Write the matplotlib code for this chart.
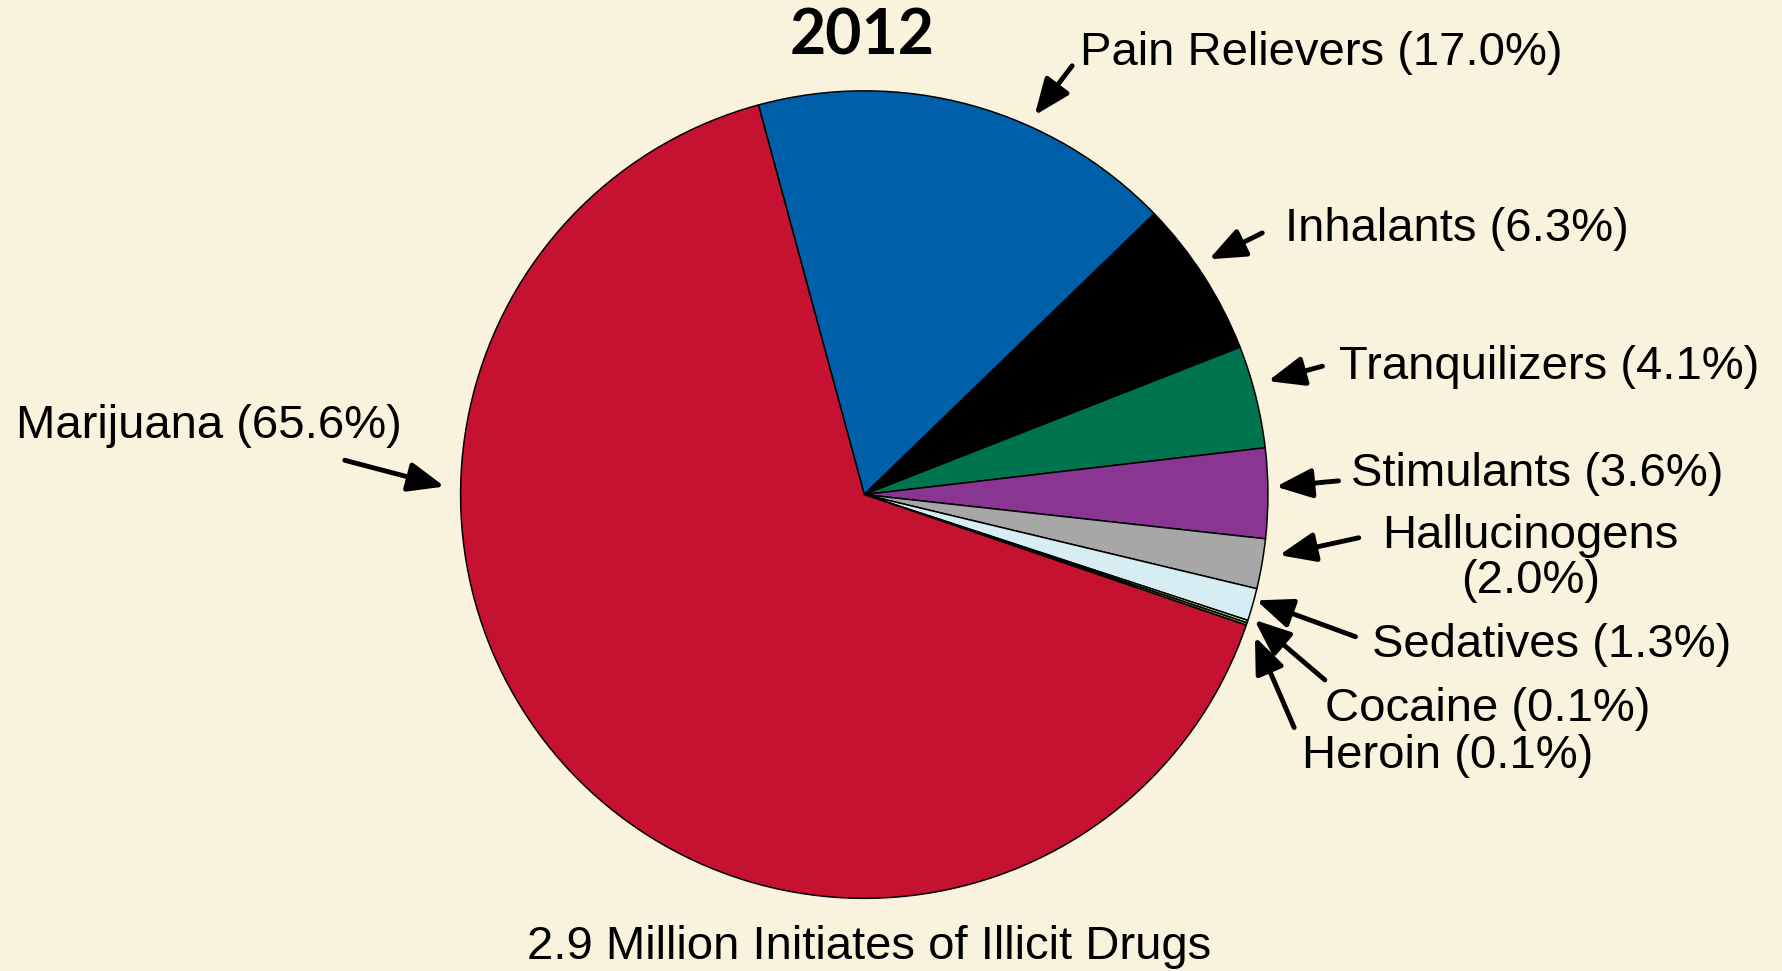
import matplotlib.pyplot as plt
import numpy as np

# first-time users of illicit drugs, 2012
drugs = ['Pain Relievers', 'Inhalants', 'Tranquilizers', 'Stimulants',
         'Hallucinogens', 'Sedatives', 'Cocaine', 'Heroin', 'Marijuana']
shares = [17.0, 6.3, 4.1, 3.6, 2.0, 1.3, 0.1, 0.1, 65.6]
colors = ['#005FA9', '#000000', '#00744F', '#8B3593', '#A7A7A7',
          '#D6EDF4', '#FFF19E', '#5DB65B', '#C41230']

# label text anchor, arrow tail (data units) and arrow tip (angle, radius)
label_pos = {
    'Pain Relievers': ((0.535, 1.093), (0.515, 1.062), (65.8, 1.03)),
    'Inhalants': ((1.042, 0.659), (0.986, 0.648), (34.3, 1.034)),
    'Tranquilizers': ((1.175, 0.315), (1.135, 0.318), (15.7, 1.039)),
    'Stimulants': ((1.206, 0.051), (1.175, 0.034), (1.1, 1.02)),
    'Hallucinogens': ((1.651, -0.158), (1.225, -0.107), (-8.3, 1.039)),
    'Sedatives': ((1.259, -0.372), (1.217, -0.352), (-15.1, 1.006)),
    'Cocaine': ((1.141, -0.530), (1.141, -0.459), (-17.8, 1.015)),
    'Heroin': ((1.085, -0.648), (1.065, -0.577), (-20.0, 1.03)),
    'Marijuana': ((-1.146, 0.169), (-1.287, 0.085), (178.9, 1.04)),
}

bg = '#F9F2DD'
plt.rcParams['font.family'] = ['Liberation Sans', 'DejaVu Sans']

fig = plt.figure(figsize=(17.83, 9.71), dpi=100, facecolor=bg)
ax = fig.add_axes([0, 0, 1, 1])
ax.set_facecolor(bg)

ax.pie(shares, colors=colors, startangle=105.2, counterclock=False,
       radius=1.0, wedgeprops=dict(edgecolor='black', linewidth=1.1))

ax.set_xlim(-2.141, 2.276)
ax.set_ylim(-1.180, 1.225)
ax.set_aspect('auto')
ax.axis('off')

for name, share in zip(drugs, shares):
    (tx, ty), (ax0, ay0), (ang, r) = label_pos[name]
    tip = (r * np.cos(np.radians(ang)), r * np.sin(np.radians(ang)))
    ax.annotate('', xy=tip, xytext=(ax0, ay0),
                arrowprops=dict(arrowstyle='-|>,head_length=1.1,head_width=0.45',
                                mutation_scale=20, lw=3.5, color='black',
                                shrinkA=0, shrinkB=0))
    if name == 'Hallucinogens':
        ax.text(tx, ty, '%s\n(%.1f%%)' % (name, share), ha='center',
                va='center', fontsize=34, linespacing=1.05)
    elif name == 'Marijuana':
        ax.text(tx, ty, '%s (%.1f%%)' % (name, share), ha='right',
                va='center', fontsize=34)
    else:
        ax.text(tx, ty, '%s (%.1f%%)' % (name, share), ha='left',
                va='center', fontsize=34)

ax.text(-0.006, 1.135, '2012', ha='center', va='center', fontsize=45,
        fontweight='bold', family=['Lato', 'DejaVu Sans'])
ax.text(0.012, -1.121, '2.9 Million Initiates of Illicit Drugs',
        ha='center', va='center', fontsize=34)

fig.savefig('out.png', dpi=100, facecolor=bg)
